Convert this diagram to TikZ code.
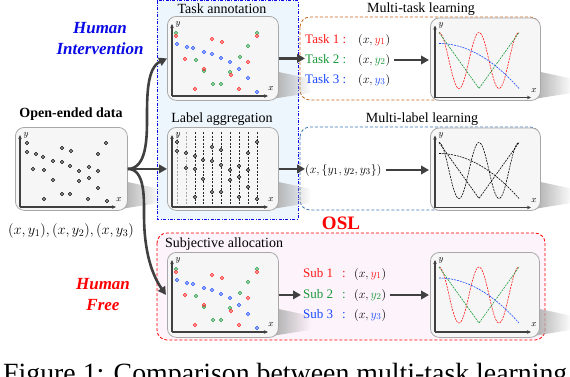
\documentclass[tikz,border=0pt]{standalone}
\usepackage{graphicx}
\usepackage{fontspec}
\setmainfont{Liberation Serif}
\usetikzlibrary{arrows.meta,fadings}
\definecolor{arrowgray}{HTML}{404040}
\definecolor{panelgray}{HTML}{A8A8A8}
\definecolor{panelfill}{HTML}{F6F6F6}
\definecolor{bluebg}{HTML}{EEF6FD}
\definecolor{pinkbg}{HTML}{FDF3FB}
\definecolor{tred}{HTML}{FF1A1A}
\definecolor{tgreen}{HTML}{1A9A3A}
\definecolor{tblue}{HTML}{1A4AFF}
\definecolor{orangeline}{HTML}{C8641E}
\definecolor{steelline}{HTML}{3C78B4}
\definecolor{iblue}{HTML}{0A0AE6}
\def\ptsO{12/16,12/25,21/27,28/30,47/21,56/24,38/34,47/35,55/39,64/44,74/40,83/27,91/16,18/42,29/43,38/53,64/54,74/51,83/44,83/61,47/67,55/67,29/72,73/72,92/74}
\def\ptsC{9/17/tgreen,9/20/tred,10/28/tblue,20/31/tblue,26/32/tblue,45/23/tred,55/26/tred,37/36/tblue,45/38/tblue,54/42/tblue,18/43/tred,29/44/tgreen,37/55/tgreen,37/53/tred,63/46/tblue,73/41/tgreen,81/46/tred,63/56/tgreen,64/59/tred,72/53/tblue,81/30/tgreen,90/17/tgreen,90/20/tred,81/62/tblue,46/68/tgreen,54/68/tgreen,28/73/tred,72/73/tred,90/76/tblue}
\def\ptsL{10/15,10/24,19/26,28/29,45/20,54/23,36/33,45/34,54/38,63/43,72/39,81/26,90/15,19/41,28/42,36/52,63/53,72/50,81/43,81/60,45/65,54/65,28/70,72/70,90/72}
\newcommand\myaxes{%
  \draw[axisline] (5,80) -- (5,8);
  \draw[axisline] (5,80) -- (101,80);
  \node[axlbl] at (11,8) {$y$};
  \node[axlbl] at (104,73) {$x$};}
\newcommand\mycurves[3]{%
  \draw[#1, curve] plot[domain=9:89, samples=81, smooth] (\x, {43-28*cos(9*(\x-9))});
  \draw[#2, curve] (9,15) -- (49,71) -- (89,15);
  \draw[#3, curve] plot[domain=9:89, samples=30, smooth] (\x, {26+45*((\x-9)/80)^2});}
\newcommand\mystreak[1]{%
  \fill[black!32, path fading=east] ([shift={(-6,-30)}]#1.south east) -- ([shift={(32,-22)}]#1.south east) -- ([shift={(32,-8)}]#1.south east) -- ([shift={(-6,-2)}]#1.south east) -- cycle;}
\begin{document}
\begin{tikzpicture}[x=1pt,y=-1pt,
  panel/.style={draw=panelgray, fill=panelfill, line width=0.8pt, rounded corners=9pt, minimum width=111pt, minimum height=84pt, anchor=north west, inner sep=0pt},
  bigarrow/.style={draw=arrowgray, line width=2.6pt, -{Triangle[length=8pt,width=8.5pt]}},
  axisline/.style={draw=arrowgray, line width=1.1pt, -{Stealth[length=4pt,width=3.5pt]}},
  pt/.style={line width=0.6pt},
  curve/.style={line width=0.6pt, dash pattern=on 2pt off 1pt},
  ttl/.style={font=\fontsize{14}{16}\selectfont, inner sep=0pt, anchor=base},
  lbl/.style={font=\fontsize{13}{15}\selectfont, inner sep=0pt, anchor=base west},
  axlbl/.style={font=\fontsize{9}{11}\selectfont, inner sep=0pt},
  group/.style={line width=0.8pt, rounded corners=10pt}]
\useasboundingbox (0,0) rectangle (570,376);
% group boxes
\draw[group, draw=iblue, fill=bluebg, rounded corners=0pt, dash pattern=on 3pt off 1.5pt on 0.8pt off 1.5pt] (157,0.6) rectangle (298,219);
\draw[group, draw=red, fill=pinkbg, dash pattern=on 3pt off 2pt] (157,233) rectangle (545,340);
\draw[group, draw=orangeline, fill=white, dash pattern=on 3pt off 2pt] (300,17) rectangle (540,100);
\draw[group, draw=steelline, fill=white, dash pattern=on 3pt off 2pt] (300,127) rectangle (540,210);
% panel coordinates for shadows
\path (15,127) node[panel, draw=none, fill=none, minimum height=83pt, minimum width=112pt] (open) {};
\path (167,16) node[panel, draw=none, fill=none] (task) {};
\path (167,127) node[panel, draw=none, fill=none, minimum height=83pt] (lagg) {};
\path (167,252) node[panel, draw=none, fill=none, minimum height=85pt] (subj) {};
\path (430,17.5) node[panel, draw=none, fill=none, minimum width=110pt, minimum height=82.5pt] (mtplot) {};
\path (430,127.5) node[panel, draw=none, fill=none, minimum width=110pt, minimum height=82.5pt] (mlplot) {};
\path (430,252) node[panel, draw=none, fill=none, minimum width=109pt, minimum height=85pt] (osplot) {};
\foreach \n in {open,task,lagg,subj,mtplot,mlplot,osplot}{\mystreak{\n}}
% panels
\node[panel, minimum height=83pt, minimum width=112pt] at (open.north west) {};
\node[panel] at (task.north west) {};
\node[panel, minimum height=83pt] at (lagg.north west) {};
\node[panel, minimum height=85pt] at (subj.north west) {};
\node[panel, minimum width=110pt, minimum height=82.5pt] at (mtplot.north west) {};
\node[panel, minimum width=110pt, minimum height=82.5pt] at (mlplot.north west) {};
\node[panel, minimum width=109pt, minimum height=85pt] at (osplot.north west) {};
% open-ended data
\begin{scope}[shift={(open.north west)}]
  \myaxes
  \foreach \px/\py in \ptsO {\draw[pt, black] (\px,\py) circle (1.6pt);}
\end{scope}
% task annotation
\begin{scope}[shift={(task.north west)}]
  \myaxes
  \foreach \px/\py/\pc in \ptsC {\draw[pt, \pc] (\px,\py) circle (1.6pt);}
\end{scope}
% label aggregation
\begin{scope}[shift={(lagg.north west)}]
  \foreach \lx in {10,19} {\draw[black!35, line width=0.5pt, dash pattern=on 2pt off 1.5pt] (\lx,5) -- (\lx,78);}
  \foreach \lx in {28,36,45,54,63,72,81,90} {\draw[black!85, line width=0.5pt, dash pattern=on 2pt off 1.5pt] (\lx,5) -- (\lx,78);}
  \myaxes
  \foreach \px/\py in \ptsL {\draw[pt, black, fill=panelfill] (\px,\py) circle (1.6pt);}
\end{scope}
% subjective allocation
\begin{scope}[shift={(subj.north west)}]
  \myaxes
  \foreach \px/\py/\pc in \ptsC {\draw[pt, \pc] (\px,\py) circle (1.6pt);}
\end{scope}
% plots
\begin{scope}[shift={(mtplot.north west)}]
  \myaxes
  \mycurves{tred}{tgreen}{tblue}
\end{scope}
\begin{scope}[shift={(mlplot.north west)}]
  \myaxes
  \mycurves{black}{black}{black}
\end{scope}
\begin{scope}[shift={(osplot.north west)}]
  \myaxes
  \mycurves{tred}{tgreen}{tblue}
\end{scope}
% titles
\node[ttl] (t1) at (222,13.5) {Task annotation};
\node[ttl] (t2) at (222,122) {Label aggregation};
\node[ttl, font=\fontsize{14}{16}\selectfont\bfseries] (t3) at (71,117) {Open-ended data};
\node[ttl] (t4) at (421,12.5) {Multi-task learning};
\node[ttl] (t5) at (422,122) {Multi-label learning};
\node[ttl, anchor=base west] (t6) at (165,247) {Subjective allocation};
\node[inner sep=0pt, anchor=base, font=\fontsize{14}{16}\selectfont] (pairs) at (71,234) {$(x,y_1),(x,y_2),(x,y_3)$};
\node[inner sep=0pt, anchor=base, align=center, text=iblue, font=\fontsize{17}{21}\selectfont\bfseries\itshape] (hi) at (100,54) {Human\\Intervention};
\node[inner sep=0pt, anchor=base, align=center, text=red, font=\fontsize{17}{21}\selectfont\bfseries\itshape] (hf) at (103,310) {Human\\Free};
\node[inner sep=0pt, anchor=base, text=red, font=\fontsize{19}{22}\selectfont\bfseries] (osl) at (341,229) {OSL};
% task labels
\node[lbl, text=tred] (ta1) at (305,43) {Task 1 :};
\node[lbl, text=tgreen] (ta2) at (305,63) {Task 2 :};
\node[lbl, text=tblue] (ta3) at (305,83) {Task 3 :};
\node[lbl] (tm1) at (358,43) {$(x,\textcolor{tred}{y_1})$};
\node[lbl] (tm2) at (358,63) {$(x,\textcolor{tgreen}{y_2})$};
\node[lbl] (tm3) at (358,83) {$(x,\textcolor{tblue}{y_3})$};
\node[lbl] (mlm) at (305,173) {$(x,\{y_1,y_2,y_3\})$};
% sub labels
\node[lbl, text=tred] (s1) at (303,277) {Sub 1};
\node[lbl, text=tgreen] (s2) at (303,298) {Sub 2};
\node[lbl, text=tblue] (s3) at (303,318) {Sub 3};
\node[lbl, text=tred] (c1) at (342,277) {:};
\node[lbl, text=tgreen] (c2) at (342,298) {:};
\node[lbl, text=tblue] (c3) at (342,318) {:};
\node[lbl] (sm1) at (354,277) {$(x,\textcolor{tred}{y_1})$};
\node[lbl] (sm2) at (354,298) {$(x,\textcolor{tgreen}{y_2})$};
\node[lbl] (sm3) at (354,318) {$(x,\textcolor{tblue}{y_3})$};
% connectors
\draw[bigarrow] (open.east) to[out=0, in=-90, looseness=0.9] (147,118) to[out=90, in=205, looseness=0.9] (task.west);
\draw[bigarrow] (open.east) -- (lagg.west);
\draw[bigarrow] (open.east) to[out=0, in=90, looseness=0.9] (144,215) to[out=-90, in=125, looseness=0.9] ([xshift=-1pt]subj.west);
\draw[bigarrow] (task.east) -- (task.east -| ta2.west);
\draw[bigarrow] (lagg.east) -- (lagg.east -| mlm.west);
\draw[bigarrow] (subj.east) -- ([xshift=-2pt]subj.east -| s2.west);
\draw[bigarrow, shorten <=4pt, shorten >=1pt] (tm2.east) -- (tm2.east -| mtplot.west);
\draw[bigarrow, shorten <=4pt, shorten >=1pt] (mlm.east) -- (mlm.east -| mlplot.west);
\draw[bigarrow, shorten <=4pt, shorten >=1pt] (sm2.east) -- (sm2.east -| osplot.west);
% caption (cut off by the page edge, as in the reference)
\node[anchor=north west, inner sep=0pt] (cap) at (3,362.5) {\resizebox{564pt}{!}{Figure 1: Comparison between multi-task learning}};
\end{tikzpicture}
\end{document}
